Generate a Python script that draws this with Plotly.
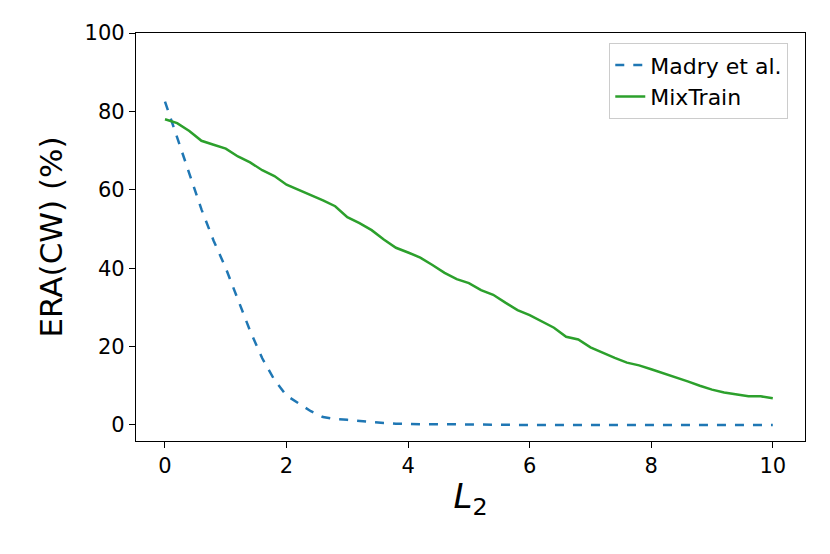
import plotly.graph_objects as go

x = [round(i * 0.2, 1) for i in range(51)]
madry = [82.5, 73.5, 64, 55, 47, 40, 32, 24, 17, 11.5, 7.5, 5.5, 3.5, 2.0, 1.5, 1.3, 1.0, 0.7, 0.5, 0.3,
         0.2, 0.2, 0.2, 0.15, 0.1, 0.1] + [0.0] * 25
mixtrain = [78, 77, 75, 72.5, 71.5, 70.5, 68.5, 67, 65, 63.5, 61.3, 60, 58.7, 57.3, 55.8, 53, 51.5, 49.7,
            47.3, 45.2, 44, 42.7, 40.8, 38.8, 37.2, 36.2, 34.4, 33.2, 31.2, 29.3, 28, 26.4, 24.8, 22.5,
            21.8, 19.8, 18.4, 17.1, 15.9, 15.2, 14.2, 13.2, 12.3, 11.1, 10.0, 9.0, 8.3, 7.8, 7.3, 7.3, 6.8]

fig = go.Figure()
fig.add_trace(go.Scatter(x=x, y=madry, mode="lines", name="Madry et al.",
                         line=dict(color="#1f77b4", width=2.5, dash="dash")))
fig.add_trace(go.Scatter(x=x, y=mixtrain, mode="lines", name="MixTrain",
                         line=dict(color="#2ca02c", width=2.5)))

ax = dict(showgrid=False, zeroline=False, showline=True, linecolor="black", linewidth=1.2,
          mirror=True, ticks="outside", ticklen=6, tickcolor="black",
          tickfont=dict(size=21, color="black"))
fig.update_layout(
    width=830, height=554, plot_bgcolor="white", paper_bgcolor="white",
    font=dict(family="DejaVu Sans", color="black"),
    margin=dict(l=128, r=33, t=25, b=121),
    xaxis=dict(ax, range=[-0.477, 10.53], tickvals=[0, 2, 4, 6, 8, 10],
               title=dict(text="<i>L</i><sub>2</sub>", font=dict(size=34), standoff=6)),
    yaxis=dict(ax, range=[-4.1, 100], tickvals=[0, 20, 40, 60, 80, 100],
               title=dict(text="ERA(CW) (%)", font=dict(size=31), standoff=12)),
    legend=dict(x=0.975, y=0.975, xanchor="right", yanchor="top", bordercolor="#cccccc",
                borderwidth=1, bgcolor="white", font=dict(size=22)),
)
fig.write_html("out.html")
